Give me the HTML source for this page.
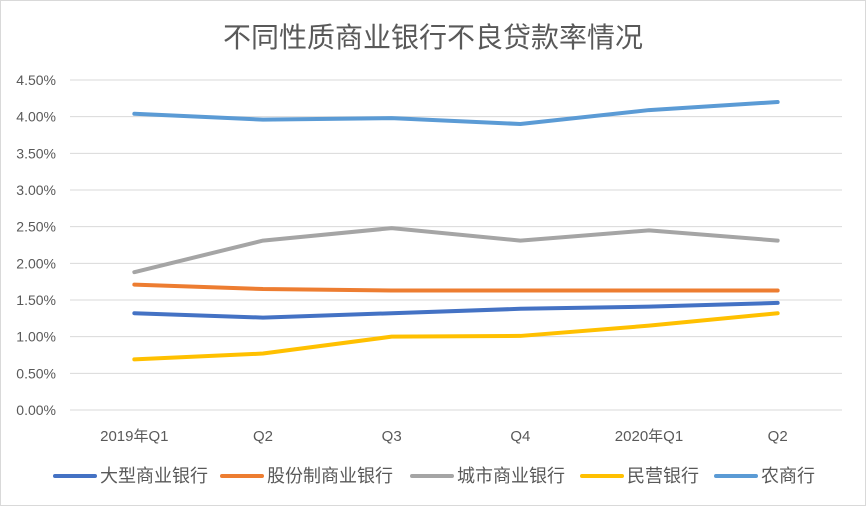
<!DOCTYPE html>
<html><head><meta charset="utf-8"><style>
body{margin:0;background:#fff;}
svg{display:block;font-family:"Liberation Sans","Noto Sans CJK SC",sans-serif;}
</style></head><body>
<svg id="chart" width="866" height="506">
<rect x="0.5" y="0.5" width="865" height="505" fill="#fff" stroke="#d9d9d9"/>
<text x="433" y="47" text-anchor="middle" font-size="28" fill="#595959">不同性质商业银行不良贷款率情况</text>
<g id="grid"></g><g id="lines"></g><g id="legend"></g>
</svg>
<script>
const categories=["2019年Q1","Q2","Q3","Q4","2020年Q1","Q2"];
const yTicks=[0,0.5,1,1.5,2,2.5,3,3.5,4,4.5];
const seriesNames=["大型商业银行","股份制商业银行","城市商业银行","民营银行","农商行"];
const seriesColors=["#4472C4","#ED7D31","#A5A5A5","#FFC000","#5B9BD5"];
const bigBanks=[1.32,1.26,1.32,1.38,1.41,1.46];
const jointStock=[1.71,1.65,1.63,1.63,1.63,1.63];
const cityBanks=[1.88,2.31,2.48,2.31,2.45,2.31];
const privateBanks=[0.69,0.77,1.00,1.01,1.15,1.32];
const ruralBanks=[4.04,3.96,3.98,3.90,4.09,4.20];
const seriesData=[bigBanks,jointStock,cityBanks,privateBanks,ruralBanks];
const NS="http://www.w3.org/2000/svg";
const x0=70,x1=842,y0=410,y1=80;
const xs=i=>x0+(x1-x0)/categories.length*(i+0.5);
const ys=v=>y0-(v/4.5)*(y0-y1);
function mk(t,a,p){const e=document.createElementNS(NS,t);for(const k in a)e.setAttribute(k,a[k]);p.appendChild(e);return e;}
const g=document.getElementById('grid');
yTicks.forEach(v=>{
 const l=mk('line',{x1:x0,x2:x1,y1:ys(v),y2:ys(v),stroke:'#d9d9d9','stroke-width':1},g);
 
 
 const t=mk('text',{x:56,y:ys(v)+5,'text-anchor':'end','font-size':14,fill:'#595959'},g);
 t.textContent=v.toFixed(2)+'%';
 
 
});
categories.forEach((c,i)=>{
 const t=mk('text',{x:xs(i),y:441,'text-anchor':'middle','font-size':15,fill:'#595959'},g);
 t.textContent=c;
 
 
});
const L=document.getElementById('lines');
seriesData.forEach((d,s)=>{
 const p=mk('polyline',{points:d.map((v,i)=>xs(i)+','+ys(v)).join(' '),fill:'none',stroke:seriesColors[s],'stroke-width':4,'stroke-linecap':'round','stroke-linejoin':'round'},L);
 
 
});
const lg=document.getElementById('legend');
const lx=[55,222,412,582,716];
seriesNames.forEach((n,s)=>{
 const e=mk('g',{},lg);
 
 
 mk('line',{x1:lx[s],x2:lx[s]+40,y1:476,y2:476,stroke:seriesColors[s],'stroke-width':4,'stroke-linecap':'round'},e);
 const t=mk('text',{x:lx[s]+45,y:482,'font-size':18,fill:'#595959'},e);
 t.textContent=n;
});
</script>
</body></html>
